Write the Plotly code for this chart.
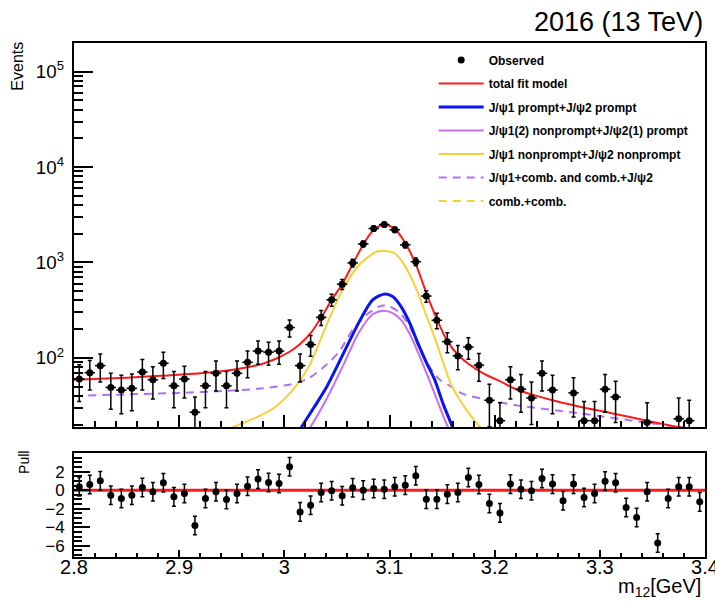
import plotly.graph_objects as go

# ---------------------------------------------------------------------------
# Di-J/psi candidate mass m12, 2016 data at 13 TeV: 60 bins of 0.01 GeV
# ---------------------------------------------------------------------------
mass = [
    2.805, 2.815, 2.825, 2.835, 2.845, 2.855, 2.865, 2.875, 2.885, 2.895,
    2.905, 2.915, 2.925, 2.935, 2.945, 2.955, 2.965, 2.975, 2.985, 2.995,
    3.005, 3.015, 3.025, 3.035, 3.045, 3.055, 3.065, 3.075, 3.085, 3.095,
    3.105, 3.115, 3.125, 3.135, 3.145, 3.155, 3.165, 3.175, 3.185, 3.195,
    3.205, 3.215, 3.225, 3.235, 3.245, 3.255, 3.265, 3.275, 3.285, 3.295,
    3.305, 3.315, 3.325, 3.335, 3.345, 3.355, 3.365, 3.375, 3.385, 3.395,
]
HALF_BIN = 0.005

# weighted event yields per bin
events = [
    60, 70, 83, 49, 46, 48, 71, 59, 88, 51,
    60, 27, 51, 69, 51, 69, 90, 118, 115, 118,
    208, 83, 138, 266, 406, 593, 990, 1565, 2270, 2500,
    2200, 1530, 1020, 445, 248, 148, 105, 130, 84, 36,
    22, 59, 47, 38, 69, 46, 8, 43, 22, 22,
    47, 39, 7, 5, 21, 3, 8, 23, 22, 7,
]
events_err = [
    25, 24, 27, 20, 20, 20, 25, 22, 27, 21,
    22, 12, 21, 24, 21, 24, 28, 32, 31, 32,
    42, 27, 34, 48, 59, 71, 92, 115, 139, 150,
    137, 114, 93, 62, 46, 35, 30, 33, 27, 17,
    12, 22, 20, 18, 24, 20, 7, 19, 13, 13,
    20, 18, 6, 4, 13, 2, 7, 15, 14, 6,
]

# (data - fit) / error per bin
pull = [
    0.36, 0.60, 1.00, -0.54, -0.90, -0.54, 0.29, -0.18, 0.80, -0.72,
    -0.36, -3.80, -0.90, -0.18, -1.00, -0.36, 0.43, 1.19, 0.83, 0.72,
    2.52, -2.34, -1.62, -0.25, -0.07, -0.61, 0.25, 0.00, 0.18, 0.10,
    0.36, 0.54, 1.55, -0.97, -0.97, -0.43, -0.25, 1.37, 0.61, -1.44,
    -2.45, 0.65, 0.10, -0.07, 1.26, 0.65, -1.15, 0.65, -0.79, -0.36,
    0.97, 0.79, -1.87, -2.95, -0.18, -5.69, -0.90, 0.36, 0.36, -1.26,
]
pull_err = [1.0] * len(pull)

# ---------------------------------------------------------------------------
# Fit model components, tabulated in m12
# ---------------------------------------------------------------------------
total_m = [2.80, 2.85, 2.883, 2.92, 2.946, 2.965, 2.978, 2.992, 3.005, 3.015,
           3.025, 3.035, 3.045, 3.055, 3.065, 3.075, 3.085, 3.095, 3.105, 3.115,
           3.125, 3.135, 3.145, 3.155, 3.165, 3.175, 3.19, 3.205, 3.22, 3.24,
           3.255, 3.28, 3.31, 3.345, 3.373, 3.40]
total_v = [59, 62, 65, 69, 74, 80, 86, 98, 116, 140,
           182, 265, 406, 593, 961, 1535, 2204, 2490, 2250, 1600,
           960, 480, 255, 150, 108, 87, 68, 57, 47, 40,
           36, 31, 26.5, 22, 19, 17]

pp_m = [3.005, 3.0166, 3.028, 3.0395, 3.0554, 3.0713, 3.084, 3.095, 3.103,
        3.111, 3.119, 3.127, 3.135, 3.143, 3.151, 3.159, 3.170]
pp_v = [11, 19, 30, 48, 107, 240, 406, 466, 440,
        345, 235, 143, 90, 58.8, 33, 20, 10]

np_p_m = [3.010, 3.025, 3.0395, 3.0554, 3.0713, 3.084, 3.095, 3.103, 3.111,
          3.119, 3.127, 3.135, 3.1428, 3.154, 3.168]
np_p_v = [11, 19, 36, 81, 188, 287, 313, 295, 250,
          180, 115, 70, 42.6, 20.6, 10]

npnp_m = [2.93, 2.952, 2.9775, 2.992, 3.008, 3.0236, 3.0395, 3.0554, 3.0713,
          3.087, 3.095, 3.105, 3.114, 3.121, 3.127, 3.133, 3.1428, 3.151,
          3.1588, 3.167, 3.1747, 3.184, 3.195]
npnp_v = [15, 19, 25, 31, 46, 82, 213, 517, 946,
          1287, 1320, 1250, 950, 680, 480, 320, 165, 90,
          52, 36, 27, 20, 15]

jcomb_m = [2.80, 2.85, 2.90, 2.95, 2.98, 3.01, 3.024, 3.04, 3.052, 3.065,
           3.078, 3.09, 3.095, 3.10, 3.11, 3.12, 3.13, 3.14, 3.147, 3.156,
           3.17, 3.19, 3.22, 3.28, 3.35, 3.40]
jcomb_v = [40, 41.5, 43, 45.5, 48, 54, 62, 85, 116, 197,
           282, 345, 355, 348, 295, 205, 115, 75, 60, 52,
           42, 37, 32, 26.3, 20.6, 17.5]

combcomb_m = [2.80, 3.00, 3.20, 3.40]
combcomb_v = [8, 7, 6, 5]

X_RANGE = [2.8, 3.4]
X_TICKS = [2.8, 2.9, 3.0, 3.1, 3.2, 3.3, 3.4]
Y_LOG_RANGE = [1.276, 5.30]
PULL_RANGE = [-7.2, 4.0]
PULL_TICKS = [-6, -4, -2, 0, 2]

RED = "#ff1a1a"
BLUE = "#0a14f0"
VIOLET = "#c86cf0"
VIOLET_DASH = "#b070f0"
GOLD = "#f7cf3a"

FONT = "Liberation Sans, Arial, Helvetica, sans-serif"

fig = go.Figure()


def add_curve(xs, ys, name, color, width, rank, dash="solid"):
    fig.add_trace(go.Scatter(
        x=xs, y=ys, mode="lines", name=name, legendrank=rank,
        legendgroup=name,
        line=dict(color=color, width=width, dash=dash, shape="spline", smoothing=0.8),
        xaxis="x", yaxis="y", hoverinfo="skip",
    ))


add_curve(combcomb_m, combcomb_v, "comb.+comb.", GOLD, 2, 7, dash="8px,6px")
add_curve(jcomb_m, jcomb_v, "J/\u03c81+comb. and comb.+J/\u03c82", VIOLET_DASH, 2, 6, dash="8px,6px")
add_curve(npnp_m, npnp_v, "J/\u03c81 nonprompt+J/\u03c82 nonprompt", GOLD, 2, 5)
add_curve(np_p_m, np_p_v, "J/\u03c81(2) nonprompt+J/\u03c82(1) prompt", VIOLET, 2, 4)
add_curve(pp_m, pp_v, "J/\u03c81 prompt+J/\u03c82 prompt", BLUE, 3, 3)
add_curve(total_m, total_v, "total fit model", RED, 2, 2)

# observed data
fig.add_trace(go.Scatter(
    x=mass, y=events, mode="markers", name="Observed", legendrank=1,
    legendgroup="Observed",
    marker=dict(color="black", size=7),
    error_y=dict(type="data", array=events_err, color="black", thickness=1.5, width=2),
    error_x=dict(type="constant", value=HALF_BIN, color="black", thickness=1.5, width=0),
    xaxis="x", yaxis="y", hoverinfo="skip",
))

# pull panel
fig.add_trace(go.Scatter(
    x=X_RANGE, y=[0, 0], mode="lines", showlegend=False,
    line=dict(color=RED, width=3), xaxis="x2", yaxis="y2", hoverinfo="skip",
))
fig.add_trace(go.Scatter(
    x=mass, y=pull, mode="markers", showlegend=False,
    marker=dict(color="black", size=7),
    error_y=dict(type="data", array=pull_err, color="black", thickness=1.5, width=2),
    xaxis="x2", yaxis="y2", hoverinfo="skip",
))

frame = dict(showline=True, mirror=True, linewidth=2, linecolor="black",
             showgrid=False, zeroline=False, tickcolor="black", automargin=False)

fig.update_layout(
    width=715, height=601,
    margin=dict(l=74, r=10, t=43, b=44, autoexpand=False),
    paper_bgcolor="white", plot_bgcolor="white",
    font=dict(family=FONT, color="black"),
    xaxis=dict(domain=[0, 1], anchor="y", range=X_RANGE, matches="x2",
               showticklabels=False, ticks="inside", ticklen=12, tickwidth=1.5,
               tickmode="array", tickvals=X_TICKS,
               minor=dict(tick0=2.8, dtick=0.02, ticks="inside", ticklen=6, tickwidth=1.5,
                          tickcolor="black", showgrid=False),
               **frame),
    yaxis=dict(domain=[0.2529, 1], anchor="x", type="log", range=Y_LOG_RANGE,
               dtick=1, exponentformat="power", ticks="inside", ticklen=19,
               tickwidth=1.5, tickfont=dict(size=15), ticklabelstandoff=5,
               minor=dict(dtick="D1", ticks="inside", ticklen=9, tickwidth=1.5,
                          tickcolor="black", showgrid=False),
               **frame),
    xaxis2=dict(domain=[0, 1], anchor="y2", range=X_RANGE,
                tickmode="array", tickvals=X_TICKS,
                ticks="inside", ticklen=7, tickwidth=1.5, tickfont=dict(size=20),
                ticklabelstandoff=-9, ticklabeloverflow="allow",
                minor=dict(tick0=2.8, dtick=0.02, ticks="inside", ticklen=4, tickwidth=1.5,
                           tickcolor="black", showgrid=False),
                **frame),
    yaxis2=dict(domain=[0, 0.2023], anchor="x2", range=PULL_RANGE,
                tickmode="array", tickvals=PULL_TICKS,
                ticks="inside", ticklen=16, tickwidth=1.5, tickfont=dict(size=17),
                ticklabelstandoff=4,
                minor=dict(tick0=0, dtick=0.5, ticks="inside", ticklen=8, tickwidth=1.5,
                           tickcolor="black", showgrid=False),
                **frame),
    legend=dict(x=0.570, y=0.995, xanchor="left", yanchor="top",
                bgcolor="rgba(255,255,255,0)", borderwidth=0,
                font=dict(family=FONT, size=12, weight="bold"),
                itemwidth=45, tracegroupgap=4.5, traceorder="grouped"),
    showlegend=True,
    annotations=[
        dict(text="2016 (13 TeV)", x=1.0, y=1.0409, xref="paper", yref="paper",
             xanchor="right", yanchor="middle", showarrow=False,
             font=dict(size=27, family=FONT)),
        dict(text="Events", x=-0.0895, y=0.955, xref="paper", yref="paper",
             xanchor="center", yanchor="middle", textangle=-90, showarrow=False,
             font=dict(size=16, family=FONT)),
        dict(text="Pull", x=-0.0792, y=0.183, xref="paper", yref="paper",
             xanchor="center", yanchor="middle", textangle=-90, showarrow=False,
             font=dict(size=14, family=FONT)),
        dict(text="m<sub>12</sub>[GeV]", x=0.9975, y=-0.0603, xref="paper", yref="paper",
             xanchor="right", yanchor="middle", showarrow=False,
             font=dict(size=20, family=FONT)),
    ],
)

fig.write_html("out.html")
